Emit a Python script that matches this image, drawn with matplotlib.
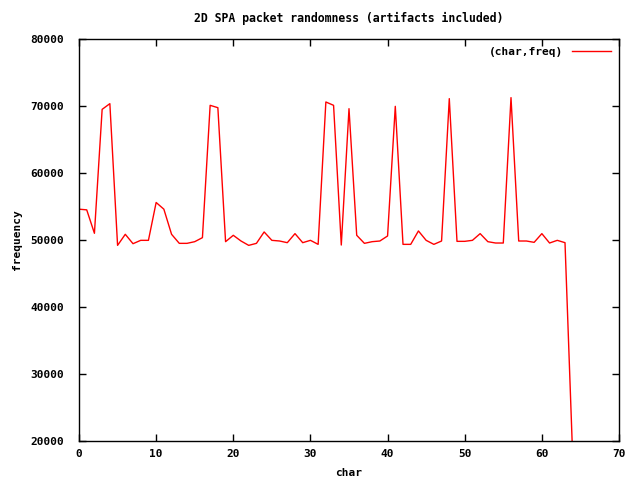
import matplotlib
matplotlib.use("Agg")
import matplotlib.pyplot as plt

chars = list(range(65))
freq = [54600, 54500, 51000, 69500, 70350, 49200, 50850, 49450, 49950, 49950,
        55600, 54600, 50850, 49500, 49500, 49750, 50350, 70100, 69750, 49750,
        50700, 49850, 49200, 49500, 51200, 49950, 49850, 49600, 50950, 49600,
        49950, 49350, 70600, 70100, 49250, 69600, 50700, 49500, 49750, 49850,
        50600, 69950, 49350, 49350, 51350, 49950, 49350, 49850, 71100, 49800,
        49800, 49950, 50950, 49750, 49550, 49550, 71250, 49850, 49850, 49650,
        50950, 49550, 49950, 49600, 17500]

xticks = [0, 10, 20, 30, 40, 50, 60, 70]
yticks = [20000, 30000, 40000, 50000, 60000, 70000, 80000]

plt.rcParams['font.family'] = ['DejaVu Sans Mono']
plt.rcParams['font.weight'] = 'bold'
plt.rcParams['font.size'] = 8

fig = plt.figure(figsize=(6.4, 4.8), dpi=100)
ax = fig.add_axes([79/640, 1-441/480, (619-79)/640, (441-39)/480])
ax.plot(chars, freq, color='#ff0000', linewidth=1, label='(char,freq)')
ax.set_xlim(0, 70)
ax.set_ylim(20000, 80000)
ax.set_xticks(xticks)
ax.set_yticks(yticks)
ax.set_xticklabels([str(t) for t in xticks])
ax.set_yticklabels([str(t) for t in yticks])
ax.tick_params(direction='in', top=True, right=True, length=5, width=1)
ax.tick_params(axis='x', pad=6)
ax.tick_params(axis='y', pad=11)
for s in ax.spines.values():
    s.set_linewidth(1)
ax.set_title('2D SPA packet randomness (artifacts included)', fontsize=8.3, fontweight='bold', pad=12)
ax.set_xlabel('char', fontsize=8, fontweight='bold', labelpad=6)
ax.set_ylabel('frequency', fontsize=8, fontweight='bold', labelpad=6)
leg = ax.legend(loc='upper right', frameon=False, markerfirst=False, handlelength=3.5,
                borderaxespad=0.3, fontsize=8)
fig.savefig('out.png', dpi=100)
